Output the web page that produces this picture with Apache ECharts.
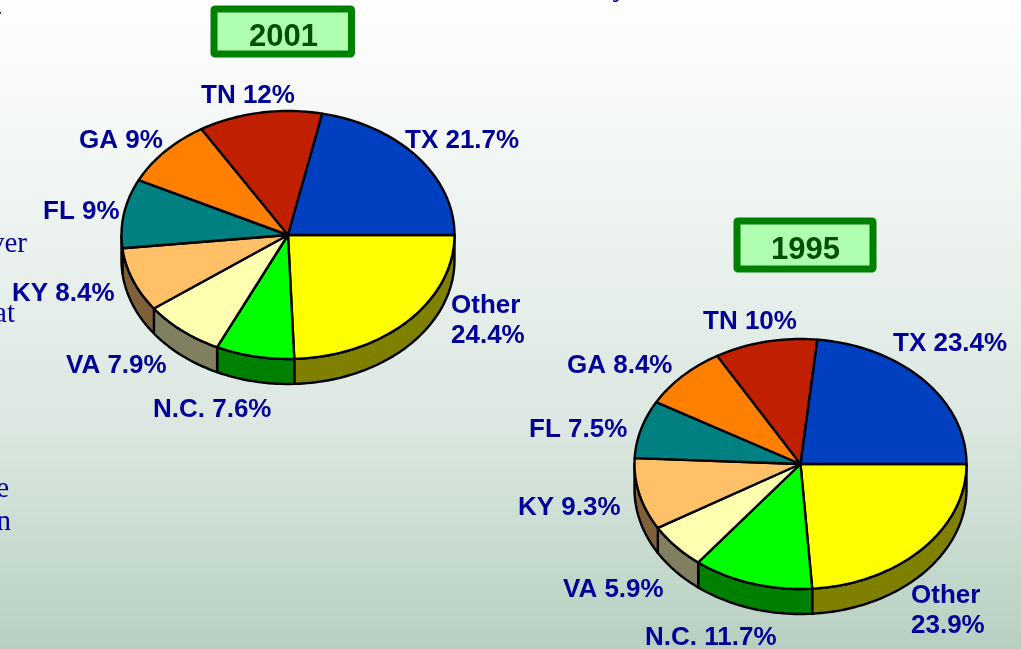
<!DOCTYPE html>
<html>
<head>
<meta charset="utf-8">
<title>Market share by state</title>
<style>
html, body { margin: 0; padding: 0; background: #fff; }
#chart { width: 1021px; height: 649px; }
</style>
<script src="https://cdn.jsdelivr.net/npm/echarts@6/dist/echarts.min.js"></script>
</head>
<body>
<div id="chart"></div>
<script>
// slices run clockwise from 3 o'clock
var states = ['Other', 'N.C.', 'VA', 'KY', 'FL', 'GA', 'TN', 'TX'];
var values2001 = [24.4, 7.6, 7.9, 8.4, 9, 9, 12, 21.7];
var values1995 = [23.9, 11.7, 5.9, 9.3, 7.5, 8.4, 10, 23.4];
var topColors = ['#FFFF00', '#00FF00', '#FFFFB0', '#FFC068', '#008080', '#FF8000', '#C02000', '#0040C0'];
var sideColors = ['#808000', '#008000', '#808060', '#806038', '#004040', '#804000', '#601000', '#002060'];

// label anchors, same order as states
var labelPos2001 = [[451, 321], [153, 410], [66, 366], [12, 294], [43, 212], [79, 141], [201, 96], [405, 141]];
var labelPos1995 = [[911, 611], [645, 638], [563, 590], [518, 508], [529, 430], [567, 366], [703, 322], [893, 344]];

var DEPTH = 25;

function arcPoints(cx, cy, rx, ry, a0, a1) {
	var pts = [];
	var steps = Math.max(2, Math.ceil(Math.abs(a1 - a0) / (Math.PI / 120)));
	for (var i = 0; i <= steps; i++) {
		var a = a0 + (a1 - a0) * i / steps;
		pts.push([cx + rx * Math.cos(a), cy + ry * Math.sin(a)]);
	}
	return pts;
}

// [value, share of the pie before this slice]
function sliceData(values) {
	var total = 0, sum = 0;
	values.forEach(function(v) { total += v; });
	return values.map(function(v) {
		var row = [v, sum / total, total];
		sum += v;
		return row;
	});
}

function sideSeries(values, cx, cy, rx, ry) {
	return {
		type: 'custom',
		coordinateSystem: 'none',
		silent: true,
		z: 2,
		data: sliceData(values),
		renderItem: function(params, api) {
			var a0 = api.value(1) * 2 * Math.PI;
			var a1 = a0 + api.value(0) / api.value(2) * 2 * Math.PI;
			if (a0 >= Math.PI) return null;
			a1 = Math.min(a1, Math.PI);
			var upper = arcPoints(cx, cy, rx, ry, a0, a1);
			var lower = arcPoints(cx, cy + DEPTH, rx, ry, a1, a0);
			return {
				type: 'polygon',
				shape: { points: upper.concat(lower) },
				style: { fill: sideColors[params.dataIndex], stroke: '#000', lineWidth: 2.4, lineJoin: 'round' }
			};
		}
	};
}

function topSeries(values, cx, cy, rx, ry) {
	return {
		type: 'custom',
		coordinateSystem: 'none',
		silent: true,
		z: 3,
		data: sliceData(values),
		renderItem: function(params, api) {
			var a0 = api.value(1) * 2 * Math.PI;
			var a1 = a0 + api.value(0) / api.value(2) * 2 * Math.PI;
			var pts = [[cx, cy]].concat(arcPoints(cx, cy, rx, ry, a0, a1));
			return {
				type: 'polygon',
				shape: { points: pts },
				style: { fill: topColors[params.dataIndex], stroke: '#000', lineWidth: 2.4, lineJoin: 'round' }
			};
		}
	};
}

function sliceLabels(values, positions) {
	return states.map(function(name, i) {
		return {
			type: 'text',
			z: 10,
			x: positions[i][0],
			y: positions[i][1],
			style: {
				text: name + (name == 'Other' ? '\n' : ' ') + values[i] + '%',
				fill: '#000099',
				font: 'bold 26px "Liberation Sans", Arial, sans-serif',
				lineHeight: 30,
				verticalAlign: 'middle',
				align: 'left'
			}
		};
	});
}

function yearBox(year, x, y, w, h, textX, textY) {
	return [
		{
			type: 'rect', z: 8,
			shape: { x: x, y: y, width: w, height: h, r: 1 },
			style: { fill: '#B0FFB0', stroke: '#008000', lineWidth: 7 }
		},
		{
			type: 'text', z: 9, x: textX, y: textY,
			style: {
				text: year, fill: '#005000',
				font: 'bold 31px "Liberation Sans", Arial, sans-serif',
				align: 'center', verticalAlign: 'middle'
			}
		}
	];
}

// leftovers of the slide text running behind the chart
function bodyText(text, x, y) {
	return {
		type: 'text', z: 1, x: x, y: y,
		style: {
			text: text, fill: '#000099',
			font: '29px "Liberation Serif", "Times New Roman", serif',
			align: 'right', verticalAlign: 'top'
		}
	};
}

var graphics = [
	bodyText('over', 27, 230),
	bodyText('at', 15, 300),
	bodyText('e', 9, 475),
	bodyText('n', 11, 508),
	bodyText('y', 627, -26),
	bodyText('-', 2, -2)
].concat(
	yearBox('2001', 214, 9, 137.5, 45, 283.5, 37),
	yearBox('1995', 737, 221, 136, 48, 805.5, 250),
	sliceLabels(values2001, labelPos2001),
	sliceLabels(values1995, labelPos1995)
);

var option = {
	animation: false,
	backgroundColor: {
		type: 'linear', x: 0, y: 0, x2: 0, y2: 1,
		colorStops: [
			{ offset: 0, color: '#FEFEFE' },
			{ offset: 0.34, color: '#EDF3F0' },
			{ offset: 0.66, color: '#DBE7E0' },
			{ offset: 0.78, color: '#CFE0D6' },
			{ offset: 1, color: '#B6CFC0' }
		]
	},
	graphic: graphics,
	series: [
		sideSeries(values2001, 288, 235, 166.5, 124),
		topSeries(values2001, 288, 235, 166.5, 124),
		sideSeries(values1995, 800.5, 464, 166, 125),
		topSeries(values1995, 800.5, 464, 166, 125)
	]
};

var myChart = echarts.init(document.getElementById('chart'));
myChart.setOption(option);
</script>
</body>
</html>
